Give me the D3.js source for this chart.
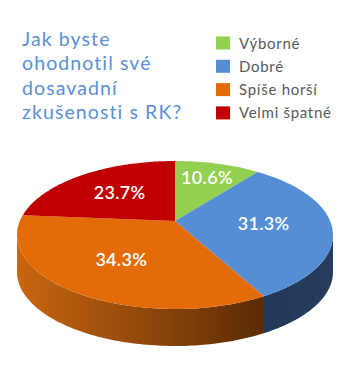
<!DOCTYPE html>
<html>
<head>
<meta charset="utf-8">
<script src="https://cdn.jsdelivr.net/npm/d3@7"></script>
<style>
  body { margin: 0; background: #fff; }
  text { font-family: Lato, "Open Sans", sans-serif; }
</style>
</head>
<body>
<svg id="chart" width="350" height="381"></svg>
<script>
// data
var categories = ["Výborné", "Dobré", "Spíše horší", "Velmi špatné"];
var values = [10.6, 31.3, 34.3, 23.7];
var sliceColors = ["#92d050", "#558ed5", "#e36c09", "#c00000"];
var titleLines = ["Jak byste", "ohodnotil své", "dosavadní", "zkušenosti s RK?"];

var svg = d3.select("#chart");

var color = d3.scaleOrdinal().domain(categories).range(sliceColors);

// pie geometry (top face is an ellipse, apex shifted up a bit for perspective)
var cx = 175, cy = 235, rx = 158, ry = 74, lift = 14, depth = 37;
var apexY = cy - lift;

function rim(theta) {
  var c = Math.cos(theta), s = Math.sin(theta), e = lift / ry;
  var t = -c * e + Math.sqrt(c * c * e * e - e * e + 1);
  return [cx + t * rx * s, apexY - t * ry * c];
}

function arcPoints(a0, a1) {
  var n = Math.max(2, Math.ceil((a1 - a0) / 0.02));
  return d3.range(n + 1).map(function(i) { return rim(a0 + (a1 - a0) * i / n); });
}

var pie = d3.pie().sort(null).value(function(d) { return d.value; });
var data = categories.map(function(c, i) { return {name: c, value: values[i]}; });
var arcs = pie(data);

// find angles of the rightmost / leftmost rim point -> visible side range
var samples = d3.range(0, 2 * Math.PI, 0.002);
var thR = d3.greatest(samples, function(a) { return rim(a)[0]; });
var thL = d3.least(samples, function(a) { return rim(a)[0]; });

var defs = svg.append("defs");
var grad = defs.append("linearGradient")
  .attr("id", "orangeSide")
  .attr("gradientUnits", "userSpaceOnUse")
  .attr("x1", cx - rx).attr("x2", 265).attr("y1", 0).attr("y2", 0);
grad.append("stop").attr("offset", "0%").attr("stop-color", "#c9660f");
grad.append("stop").attr("offset", "100%").attr("stop-color", "#5a2b05");

var blueGrad = defs.append("linearGradient")
  .attr("id", "blueSide")
  .attr("gradientUnits", "userSpaceOnUse")
  .attr("x1", 265).attr("x2", cx + rx).attr("y1", 0).attr("y2", 0);
blueGrad.append("stop").attr("offset", "0%").attr("stop-color", "#22385a");
blueGrad.append("stop").attr("offset", "100%").attr("stop-color", "#263d5e");

var sideFill = {"Dobré": "url(#blueSide)", "Spíše horší": "url(#orangeSide)"};

// sides
var line = d3.line();
arcs.forEach(function(a) {
  var a0 = Math.max(a.startAngle, thR), a1 = Math.min(a.endAngle, thL);
  if (a1 <= a0) return;
  var top = arcPoints(a0, a1);
  var bottom = top.map(function(p) { return [p[0], p[1] + depth]; }).reverse();
  svg.append("path")
    .attr("d", line(top.concat(bottom)) + "Z")
    .attr("fill", sideFill[a.data.name] || d3.color(color(a.data.name)).darker(1.2));
});

// top faces
svg.selectAll(".slice")
  .data(arcs)
  .enter()
  .append("path")
  .attr("class", "slice")
  .attr("d", function(a) {
    return line([[cx, apexY]].concat(arcPoints(a.startAngle, a.endAngle))) + "Z";
  })
  .attr("fill", function(a) { return color(a.data.name); });

// labels, placed at the sector centroid (pushed out a bit for thin slices)
function labelPos(a) {
  var m = (a.startAngle + a.endAngle) / 2, span = a.endAngle - a.startAngle;
  var f = 4 * Math.sin(span / 2) / (3 * span);
  if (span < 1) f += 0.1;
  var p = rim(m);
  return [cx + f * (p[0] - cx), apexY + f * (p[1] - apexY)];
}

svg.selectAll(".label")
  .data(arcs)
  .enter()
  .append("text")
  .attr("class", "label")
  .attr("x", function(a) { return labelPos(a)[0]; })
  .attr("y", function(a) { return labelPos(a)[1] + 6; })
  .attr("text-anchor", "middle")
  .style("font-size", "18px")
  .style("font-weight", "600")
  .style("letter-spacing", "0.3px")
  .style("fill", "#fff")
  .text(function(a) { return d3.format(".1f")(a.data.value) + "%"; });

// title
svg.append("text")
  .attr("x", 22)
  .attr("y", 46)
  .style("font-size", "19.5px")
  .style("letter-spacing", "1.1px")
  .style("fill", "#5b8fd6")
  .selectAll("tspan")
  .data(titleLines)
  .enter()
  .append("tspan")
  .attr("x", 22)
  .attr("dy", function(d, i) { return i === 0 ? 0 : 24.3; })
  .text(function(d) { return d; });

// legend
var legend = svg.selectAll(".legend")
  .data(categories)
  .enter()
  .append("g")
  .attr("class", "legend")
  .attr("transform", function(d, i) { return "translate(216," + (43 + i * 23.3) + ")"; });

legend.append("rect")
  .attr("x", 0).attr("y", -6.5)
  .attr("width", 14).attr("height", 13)
  .attr("fill", function(d) { return color(d); });

legend.append("text")
  .attr("x", 23)
  .attr("y", 5.5)
  .style("font-size", "15px")
  .style("letter-spacing", "0.7px")
  .style("fill", "#595959")
  .text(function(d) { return d; });
</script>
</body>
</html>
